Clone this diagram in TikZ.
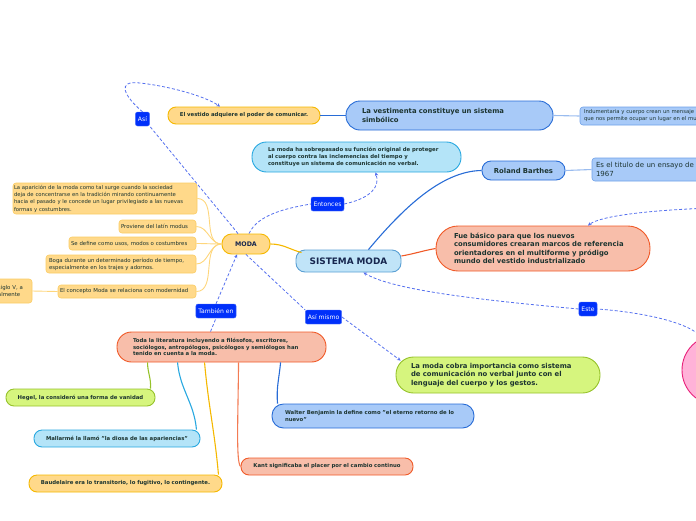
\documentclass[tikz,border=0pt]{standalone}
\usepackage{fontspec}
\setmainfont{DejaVu Sans}
\usetikzlibrary{arrows.meta,calc,positioning}
\definecolor{inktext}{RGB}{28,52,48}
\definecolor{inknavy}{RGB}{22,38,78}
\definecolor{yelfill}{RGB}{255,217,138}
\definecolor{yelline}{RGB}{245,184,0}
\definecolor{yelsoft}{RGB}{250,204,100}
\definecolor{bluefill}{RGB}{168,202,248}
\definecolor{blueline}{RGB}{40,108,214}
\definecolor{bluesoft}{RGB}{110,160,232}
\definecolor{cyanfill}{RGB}{180,228,248}
\definecolor{cyanline}{RGB}{40,168,224}
\definecolor{sysfill}{RGB}{192,228,248}
\definecolor{sysline}{RGB}{90,160,212}
\definecolor{salfill}{RGB}{248,190,170}
\definecolor{salline}{RGB}{240,90,40}
\definecolor{grnfill}{RGB}{214,245,126}
\definecolor{grnline}{RGB}{150,194,43}
\definecolor{pinkfill}{RGB}{255,178,216}
\definecolor{pinkline}{RGB}{232,32,122}
\definecolor{lblblue}{RGB}{0,48,250}
\definecolor{relblue}{RGB}{85,112,238}

\begin{document}
\begin{tikzpicture}[x=1pt, y=-1pt, >=Stealth,
    topic/.style={draw, line width=0.9pt, inner ysep=0pt, align=left, text=inktext,
      font=\bfseries\fontsize{5.35}{6.7}\selectfont},
    bigtopic/.style={topic, font=\bfseries\fontsize{6.85}{8.4}\selectfont},
    note/.style={topic, line width=0.6pt, rounded corners=3pt, inner xsep=3pt,
      font=\fontsize{5.4}{7.2}\selectfont},
    yel/.style={fill=yelfill, draw=yelline},
    yelnote/.style={note, fill=yelfill, draw=yelsoft},
    blu/.style={fill=bluefill, draw=blueline},
    blunote/.style={note, fill=bluefill, draw=bluesoft},
    cya/.style={fill=cyanfill, draw=cyanline},
    sal/.style={fill=salfill, draw=salline},
    grn/.style={fill=grnfill, draw=grnline},
    tag/.style={fill=lblblue, draw=lblblue!70!white, line width=0.4pt, rounded corners=2pt,
      text=white, font=\fontsize{6.1}{6.5}\selectfont, minimum height=14pt, inner xsep=2.5pt, inner ysep=0pt},
    rel/.style={draw=relblue, line width=0.8pt, dash pattern=on 3pt off 2pt,
      -{Stealth[length=3.5pt,width=3.5pt]}},
    plain/.style={draw=relblue, line width=0.8pt, dash pattern=on 3pt off 2pt},
    link/.style={line width=1.1pt}
  ]
  \useasboundingbox (0,0) rectangle (696,520);
  \clip (0,0) rectangle (696,520);

  % central topics
  \node[topic, yel, minimum height=20pt, text width=42pt, inner xsep=3pt, align=center,
    rounded corners=9.5pt, text=inknavy, font=\bfseries\fontsize{6.3}{7}\selectfont] (moda) at (246,244) {MODA};
  \node[topic, fill=sysfill, draw=sysline, minimum height=22pt, text width=97pt, inner xsep=4pt,
    align=center, rounded corners=9pt, text=inknavy, font=\bfseries\fontsize{8.9}{10}\selectfont] (sistema) at (348.5,261) {SISTEMA MODA};

  % upper branch
  \node[bigtopic, blu, minimum height=29pt, text width=175pt, inner xsep=16pt, rounded corners=14pt] (vest) at (449.5,115.5)
    {La vestimenta constituye un sistema\\simbólico};
  \node[blunote, minimum height=18pt, text width=210pt, inner xsep=4pt, font=\fontsize{5.3}{7}\selectfont] (indu) at (689,116)
    {Indumentaria y cuerpo crean un mensaje que comunica\\que nos permite ocupar un lugar en el mundo};
  \node[topic, yel, minimum height=17pt, text width=142pt, inner xsep=5pt, align=center, rounded corners=8pt] (vestido) at (244,115.5)
    {El vestido adquiere el poder de comunicar.};
  \node[topic, cya, minimum height=30pt, text width=177pt, inner xsep=16pt, rounded corners=14.5pt] (sobre) at (356.5,157)
    {La moda ha sobrepasado su función original de proteger\\al cuerpo contra las inclemencias del tiempo y\\constituye un sistema de comunicación no verbal.};
  \node[bigtopic, blu, minimum height=19pt, text width=77pt, inner xsep=3pt, align=center, rounded corners=9pt] (roland) at (523.5,170.5)
    {Roland Barthes};
  \node[blunote, minimum height=23pt, text width=128pt, inner xsep=4pt, font=\fontsize{7}{9.5}\selectfont] (titulo) at (660,169.5)
    {Es el titulo de un ensayo de\\1967};
  \node[bigtopic, sal, minimum height=45pt, text width=178pt, inner xsep=18pt, rounded corners=22pt] (fue) at (543,248.5)
    {Fue básico para que los nuevos\\consumidores crearan marcos de referencia\\orientadores en el multiforme y pródigo\\mundo del vestido industrializado};
  \node[bigtopic, grn, minimum height=36pt, text width=174pt, inner xsep=15pt, rounded corners=17.5pt] (cobra) at (498,375)
    {La moda cobra importancia como sistema\\de comunicación no verbal junto con el\\lenguaje del cuerpo y los gestos.};
  \node[circle, draw=pinkline, fill=pinkfill, line width=0.9pt, minimum size=70pt] (pink) at (717,370) {};

  % left notes of MODA
  \node[yelnote, minimum height=31pt, text width=182pt, inner xsep=1pt, font=\fontsize{5.3}{7.3}\selectfont] (aparicion) at (105,198.5)
    {La aparición de la moda como tal surge cuando la sociedad\\deja de concentrarse en la tradición mirando continuamente\\hacia el pasado y le concede un lugar privilegiado a las nuevas\\formas y costumbres.};
  \node[yelnote, minimum height=13pt, text width=73pt, inner xsep=2pt] (proviene) at (157.5,226.5) {Proviene del latín modus};
  \node[yelnote, minimum height=13pt, text width=123pt, inner xsep=2pt] (define) at (132.5,243.5) {Se define como usos, modos o costumbres};
  \node[yelnote, minimum height=18pt, text width=144pt] (boga) at (121,264)
    {Boga durante un determinado período de tiempo,\\especialmente en los trajes y adornos.};
  \node[yelnote, minimum height=13pt, text width=134pt, inner xsep=2pt] (concepto) at (127,291.5) {El concepto Moda se relaciona con modernidad};
  \node[yelnote, minimum height=24pt, text width=30pt, inner xsep=4pt] (siglo) at (13,291) {siglo V, a\\almente};

  % literature branch
  \node[topic, sal, minimum height=30pt, text width=177pt, inner xsep=16pt, rounded corners=14.5pt] (toda) at (221.5,347)
    {Toda la literatura incluyendo a filósofos, escritores,\\sociólogos, antropólogos, psicólogos y semiólogos han\\tenido en cuenta a la moda.};
  \node[topic, grn, minimum height=17pt, text width=141pt, inner xsep=4pt, align=center, rounded corners=8pt] (hegel) at (80.5,397.5)
    {Hegel, la consideró una forma de vanidad};
  \node[topic, cya, minimum height=17pt, text width=158pt, inner xsep=4pt, align=center, rounded corners=8pt] (mallarme) at (117,438.5)
    {Mallarmé la llamó "la diosa de las apariencias"};
  \node[topic, yel, minimum height=17pt, text width=185pt, inner xsep=4pt, align=center, rounded corners=8pt] (baudelaire) at (125.5,483.5)
    {Baudelaire era lo transitorio, lo fugitivo, lo contingente.};
  \node[topic, blu, minimum height=24pt, text width=176pt, inner xsep=13pt, rounded corners=11.5pt] (walter) at (373,416)
    {Walter Benjamin la define como "el eterno retorno de lo\\nuevo"};
  \node[topic, sal, minimum height=17pt, text width=164pt, inner xsep=4pt, align=center, rounded corners=8pt] (kant) at (327,466.5)
    {Kant significaba el placer por el cambio continuo};

  % relation tags
  \node[tag] (asi) at (142.5,119) {Así};
  \node[tag] (entonces) at (327.5,204) {Entonces};
  \node[tag] (tambien) at (216,311) {También en};
  \node[tag] (asimismo) at (323.5,317) {Así mismo};
  \node[tag] (este) at (588,309) {Este};
  \coordinate (offright) at (712,208);

  % solid links
  \draw[link, yelline] (moda.east) to[out=0,in=165] ($(sistema.north west)+(6,3)$);
  \draw[link, blueline] ($(sistema.north)+(20,0)$) .. controls (400,212) and (440,171) .. (roland.west);
  \draw[link, salline] ($(sistema.east)+(0,-5)$) to[out=10,in=190] (fue.west);
  \draw[link, blueline] (vestido.east) -- (vest.west);
  \draw[link, bluesoft!70!white] (vest.east) -- (indu.west);
  \draw[link, bluesoft!70!white] (roland.east) -- (titulo.west);
  \foreach \leaf in {aparicion,proviene,define,boga,concepto}
    \draw[line width=0.9pt, yelfill!90!yelline] (moda.west) to[out=180,in=0] (\leaf.east);
  \draw[line width=0.9pt, yelfill!90!yelline] (concepto.west) -- (siglo.east);
  \draw[link, grnline] ($(toda.south west)+(31,0)$) to[out=-90,in=85] ($(hegel.north east)+(-5,0)$);
  \draw[link, cyanline] ($(toda.south west)+(61,0)$) to[out=-85,in=95] ($(mallarme.north east)+(-4,0)$);
  \draw[link, yelline] ($(toda.south west)+(88,0)$) to[out=-85,in=95] ($(baudelaire.north east)+(-4,0)$);
  \draw[link, salline!80!white] ($(toda.south west)+(122,0)$) .. controls (238,420) and (236,462) .. (kant.west);
  \draw[link, blueline] ($(toda.south west)+(164,0)$) to[out=-95,in=95] ($(walter.north west)+(6,0)$);

  % dashed relations
  \draw[plain] ($(moda.north)+(-8,0)$) -- (asi.south east);
  \draw[rel] (asi.north) .. controls (124,96) and (116,80) .. (140,83)
    .. controls (168,86) and (205,96) .. ($(vestido.north)+(-24,0)$);
  \draw[plain] ($(moda.north)+(3,0)$) .. controls (258,214) and (288,208) .. (entonces.west);
  \draw[rel] (entonces.east) .. controls (372,198) and (380,186) .. ($(sobre.south)+(19,0)$);
  \draw[plain] ($(toda.north)+(-11,0)$) -- (tambien.south);
  \draw[rel] (tambien.north) -- ($(moda.south)+(-9,0)$);
  \draw[plain] (moda.south) -- (asimismo.north west);
  \draw[rel] (asimismo.east) -- ($(cobra.north west)+(5,4)$);
  \draw[plain] (pink.115) .. controls (690,322) and (640,312) .. (este.east);
  \draw[rel] (este.west) .. controls (480,300) and (392,290) .. ($(sistema.south)+(15,0)$);
  \draw[rel] (offright) .. controls (650,210) and (600,216) .. ($(fue.north)+(45,0)$);
\end{tikzpicture}
\end{document}
